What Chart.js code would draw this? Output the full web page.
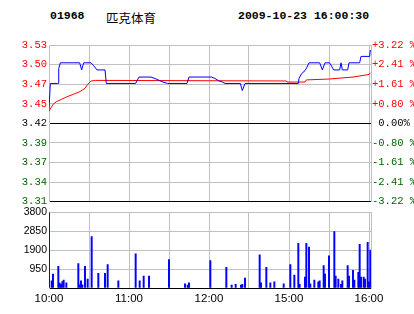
<!DOCTYPE html>
<html>
<head>
<meta charset="utf-8">
<script src="https://cdn.jsdelivr.net/npm/chart.js@4.4.1/dist/chart.umd.min.js"></script>
<style>
body { margin: 0; background: #fff; }
#wrap { position: relative; width: 414px; height: 314px; overflow: hidden; background: #fff; }
.hd { position: absolute; top: 9px; font: bold 11.5px "Liberation Mono", monospace; line-height: 14px; white-space: pre; color: #000; }
#code { left: 50px; }
#name { left: 106px; top: 8px; font: 12.5px "Noto Sans CJK SC", sans-serif; }
#stamp { left: 238px; }
#priceBox { position: absolute; left: 0; top: 36px; }
#volBox { position: absolute; left: 0; top: 204px; }
</style>
</head>
<body>
<div id="wrap">
  <div class="hd" id="code"></div>
  <div class="hd" id="name"></div>
  <div class="hd" id="stamp"></div>
  <div id="priceBox"><canvas id="priceChart" width="414" height="174"></canvas></div>
  <div id="volBox"><canvas id="volChart" width="414" height="110"></canvas></div>
</div>
<script>
// header
var stockCode = '01968';
var stockName = '匹克体育';
var stamp = '2009-10-23 16:00:30';

// trading minutes counted from 10:00 (morning 10:00-12:30, afternoon 14:30-16:00)
var timeTicks = [0, 30, 60, 90, 120, 150, 180, 210, 240];
var timeLabels = ['10:00', '', '11:00', '', '12:00', '', '15:00', '', '16:00'];

// price axis, bottom to top
var priceMin = 3.31, priceMax = 3.53;
var priceLabels = ['3.31', '3.34', '3.37', '3.39', '3.42', '3.45', '3.47', '3.50', '3.53'];
var pctLabels = ['-3.22 %', '-2.41 %', '-1.61 %', '-0.80 %', ' 0.00%', '+0.80 %', '+1.61 %', '+2.41 %', '+3.22 %'];

// last price (blue)
var priceMins = [0, 1, 6.5, 7, 7.3, 8.5, 23, 24.5, 26, 31.5, 33.5, 36, 42, 43, 65, 67.5, 76.5, 79.5, 83, 85.5, 89, 103.5, 105, 122, 124.5, 127, 130, 132, 143.5, 145, 147, 187, 187.5, 189.5, 192, 193.5, 195, 203, 205, 207, 210.5, 213.5, 218, 219, 220, 224, 225, 233, 234, 240.5, 241];
var priceVals = [3.440, 3.476, 3.476, 3.476, 3.497, 3.505, 3.505, 3.495, 3.505, 3.505, 3.501, 3.495, 3.495, 3.476, 3.476, 3.485, 3.485, 3.483, 3.480, 3.478, 3.476, 3.476, 3.485, 3.485, 3.483, 3.480, 3.478, 3.476, 3.476, 3.466, 3.476, 3.476, 3.483, 3.490, 3.494, 3.499, 3.505, 3.505, 3.495, 3.505, 3.505, 3.495, 3.495, 3.505, 3.495, 3.495, 3.505, 3.505, 3.514, 3.514, 3.523];

// average price (red)
var avgMins = [0, 1.5, 3.2, 5.7, 9.5, 13.2, 18.2, 23.2, 27, 29, 31.5, 35, 178, 178.5, 192, 193, 210, 228, 240, 241];
var avgVals = [3.437, 3.442, 3.447, 3.4506, 3.4539, 3.4571, 3.4608, 3.4646, 3.4692, 3.4747, 3.4794, 3.4803, 3.4795, 3.478, 3.478, 3.481, 3.4822, 3.485, 3.4886, 3.491];

// volume
var volTicks = [0, 950, 1900, 2850, 3800];
var volMins = [0, 2, 3, 7, 8, 9, 10, 11, 13, 22, 23, 24, 25, 27, 29, 32, 37, 42, 44, 52, 65, 68, 71, 75, 90, 102, 104, 105, 121, 133, 137, 140, 144, 145, 147, 158, 159, 163, 166, 169, 176, 181, 184, 187, 188, 192, 193, 195, 196, 199, 202, 203, 206, 207, 210, 214, 215, 217, 219, 220, 224, 225, 228, 229, 232, 233, 234, 236, 237, 239, 240, 241];
var volVals = [3780, 354, 694, 1083, 242, 180, 320, 400, 257, 1228, 160, 354, 160, 1083, 450, 2584, 742, 742, 1180, 354, 1714, 354, 597, 597, 1422, 210, 150, 257, 1374, 1034, 150, 180, 150, 180, 500, 1665, 257, 1034, 257, 305, 210, 1180, 645, 2245, 180, 548, 2245, 2050, 210, 400, 305, 354, 1131, 694, 1617, 2827, 597, 450, 180, 354, 1131, 597, 888, 400, 791, 2196, 548, 548, 450, 2294, 305, 1909];

document.getElementById('code').textContent = stockCode;
document.getElementById('name').textContent = stockName;
document.getElementById('stamp').textContent = stamp;

var gridGrey = '#c0c0c0';
var upRed = '#ff0000';
var downGreen = '#006400';

function toPoints(xs, ys) {
    var pts = [];
    for (let i = 0; i < xs.length; i++) {
        pts.push({ x: xs[i], y: ys[i] });
    }
    return pts;
}

function labelColor(i) {
    if (i > 4) return upRed;
    if (i < 4) return downGreen;
    return '#000';
}

function priceTicks(scale) {
    var n = priceLabels.length - 1;
    var out = [];
    for (let i = 0; i <= n; i++) {
        out.push({ value: priceMin + (priceMax - priceMin) * i / n });
    }
    scale.ticks = out;
}

function timeGrid(scale) {
    scale.ticks = timeTicks.map(function (v) { return { value: v }; });
}

var monoFont = { family: 'Liberation Mono', size: 10.5 };

// price chart
new Chart(document.getElementById('priceChart'), {
    type: 'line',
    data: {
        datasets: [{
            data: toPoints(avgMins, avgVals),
            borderColor: '#ff0000',
            borderWidth: 1,
            pointRadius: 0,
            tension: 0,
            order: 2
        }, {
            data: toPoints(priceMins, priceVals),
            borderColor: '#0000ff',
            borderWidth: 1,
            pointRadius: 0,
            tension: 0,
            order: 1
        }]
    },
    options: {
        responsive: false,
        animation: false,
        events: [],
        layout: { padding: { top: 9, bottom: 7, left: 0, right: 0 } },
        plugins: { legend: { display: false }, tooltip: { enabled: false } },
        scales: {
            x: {
                type: 'linear', min: 0, max: 241.5,
                afterBuildTicks: timeGrid,
                afterFit: function (s) { s.height = 0; },
                ticks: { display: false },
                grid: { color: gridGrey, drawTicks: false },
                border: { display: false }
            },
            y: {
                position: 'left', min: priceMin, max: priceMax,
                afterBuildTicks: priceTicks,
                afterFit: function (s) { s.width = 49; },
                ticks: {
                    callback: function (v, i) { return priceLabels[i]; },
                    color: function (c) { return labelColor(c.index); },
                    padding: 2,
                    font: monoFont
                },
                grid: {
                    color: function (c) { return (c.index === 0 || c.index === 4) ? '#000' : gridGrey; },
                    drawTicks: false
                },
                border: { color: gridGrey }
            },
            y2: {
                position: 'right', min: priceMin, max: priceMax,
                afterBuildTicks: priceTicks,
                afterFit: function (s) { s.width = 43; },
                ticks: {
                    callback: function (v, i) { return pctLabels[i]; },
                    color: function (c) { return labelColor(c.index); },
                    padding: 1,
                    font: monoFont
                },
                grid: { drawOnChartArea: false, drawTicks: false },
                border: { color: gridGrey }
            }
        }
    }
});

// volume chart
new Chart(document.getElementById('volChart'), {
    type: 'bar',
    data: {
        datasets: [{
            data: toPoints(volMins, volVals),
            backgroundColor: '#0000ff',
            borderWidth: 0,
            barThickness: 1.3
        }]
    },
    options: {
        responsive: false,
        animation: false,
        events: [],
        layout: { padding: { top: 6, bottom: 0, left: 0, right: 0 } },
        plugins: { legend: { display: false }, tooltip: { enabled: false } },
        scales: {
            x: {
                type: 'linear', min: 0, max: 241.5, offset: false,
                afterBuildTicks: timeGrid,
                afterFit: function (s) { s.height = 26; },
                ticks: {
                    callback: function (v, i) { return timeLabels[i]; },
                    autoSkip: false, maxRotation: 0, padding: 4, color: '#000',
                    font: { family: 'Liberation Sans', size: 11.5 }
                },
                grid: { color: gridGrey, drawTicks: false, offset: false },
                border: { color: '#000' }
            },
            y: {
                position: 'left', min: 0, max: 3800,
                afterBuildTicks: function (s) { s.ticks = volTicks.map(function (v) { return { value: v }; }); },
                afterFit: function (s) { s.width = 49; },
                ticks: {
                    callback: function (v, i) { return i === 0 ? '' : String(volTicks[i]); },
                    padding: 2, color: '#000',
                    font: { family: 'Liberation Sans', size: 10.5 }
                },
                grid: {
                    color: function (c) { return c.index === 0 ? '#000' : gridGrey; },
                    drawTicks: false
                },
                border: { color: gridGrey }
            },
            y2: {
                position: 'right', min: 0, max: 3800,
                afterFit: function (s) { s.width = 43; },
                ticks: { display: false },
                grid: { drawOnChartArea: false, drawTicks: false },
                border: { color: gridGrey }
            }
        }
    }
});
</script>
</body>
</html>
